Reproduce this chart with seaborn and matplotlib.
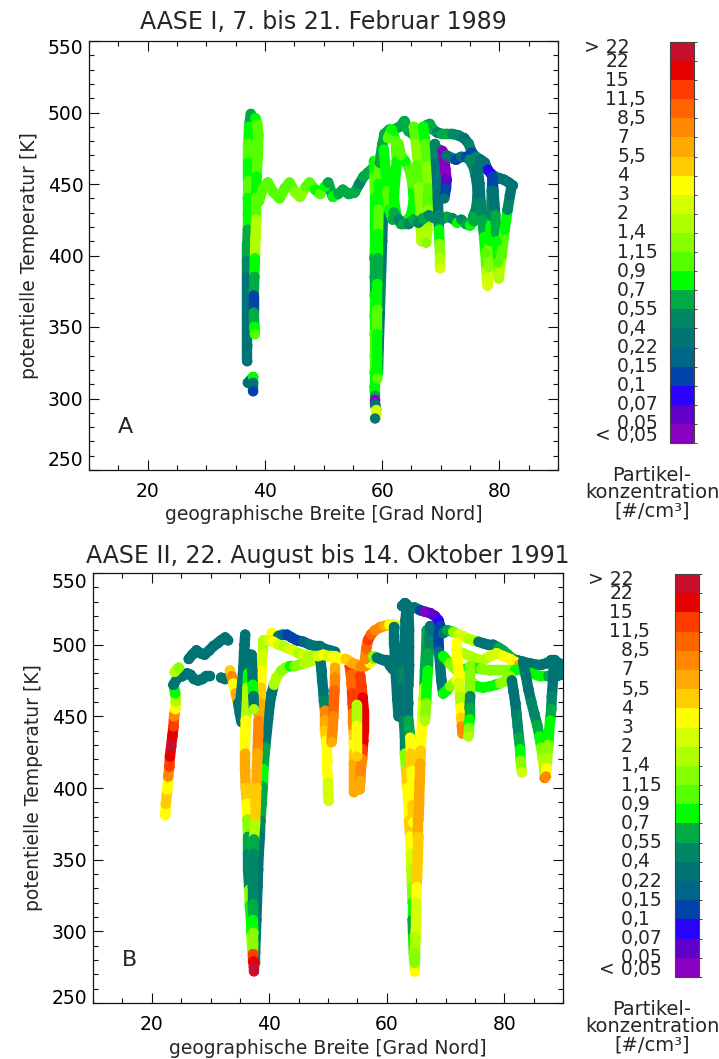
import numpy as np
import pandas as pd
import matplotlib
matplotlib.use("Agg")
import matplotlib.pyplot as plt
import matplotlib.transforms as mtrans
from matplotlib.colors import ListedColormap, BoundaryNorm
from matplotlib.cm import ScalarMappable
from matplotlib.ticker import MultipleLocator, FixedLocator
import seaborn as sns

# ---------------- colour classes (particle concentration, #/cm^3) ----------------
EDGES = [0.05, 0.07, 0.1, 0.15, 0.22, 0.4, 0.55, 0.7, 0.9, 1.15, 1.4, 2, 3, 4,
         5.5, 7, 8.5, 11.5, 15, 22]
LEVEL_LABELS = ["< 0,05", "0,05", "0,07", "0,1", "0,15", "0,22", "0,4", "0,55",
                "0,7", "0,9", "1,15", "1,4", "2", "3", "4", "5,5", "7", "8,5",
                "11,5", "15", "22", "> 22"]
LEVEL_COLORS = ["#8800C0", "#6000C8", "#2A00FF", "#0044AA", "#006688", "#007474",
                "#008866", "#00AA44", "#00FF00", "#55FF00", "#88FF00", "#B0FF00",
                "#D4FF00", "#FFFF00", "#FFCC00", "#FFAA00", "#FF8800", "#FF6400",
                "#FF3C00", "#E60000", "#C8102E"]

# ---------------- panel A: AASE I flight tracks (lat, theta [K], conc) ----------------
A_DIVE37_W = [(37.6, 499, 0.6), (37.3, 490, 0.8), (37.2, 478, 1.0), (37.2, 465, 0.8),
              (37.2, 452, 1.0), (37.1, 440, 0.8), (37.1, 428, 0.8), (37.1, 418, 0.6),
              (37.0, 408, 0.6), (37.0, 396, 0.45), (37.0, 385, 0.3), (37.0, 372, 0.3),
              (37.0, 360, 0.3), (37.0, 348, 0.3), (37.0, 337, 0.3), (37.0, 326, 0.3)]
A_DIVE37_E = [(38.4, 496, 0.8), (38.7, 492, 1.0), (38.9, 484, 1.0), (38.8, 470, 1.0),
              (38.6, 455, 0.8), (38.5, 440, 1.0), (38.5, 425, 1.7), (38.4, 412, 1.7),
              (38.3, 398, 0.8), (38.2, 385, 0.6), (38.1, 372, 0.12), (38.1, 360, 0.6),
              (38.2, 350, 0.8), (38.3, 345, 1.0)]
A_DOTS37 = [(37.1, 311, 0.3), (38.0, 315, 0.8), (38.0, 311, 0.3), (38.0, 305, 0.12)]
A_HORIZ = [(39.0, 438, 1.0), (39.6, 446, 1.0), (40.5, 451, 1.0), (41.5, 444, 1.0),
           (42.5, 440, 1.0), (43.4, 447, 1.0), (44.2, 451, 1.0), (45.2, 444, 1.3),
           (46.0, 441, 1.3), (47.0, 448, 1.0), (47.6, 451, 1.0), (48.6, 446, 0.8),
           (49.4, 443, 1.0), (50.2, 448, 0.8), (50.8, 451, 0.6), (51.6, 441, 0.8),
           (52.5, 443, 0.6), (53.3, 446, 0.6), (54.3, 443, 0.6), (55.3, 444, 0.6),
           (56.1, 450, 0.45), (56.8, 455, 0.6), (57.6, 458, 0.6), (58.4, 461, 0.6),
           (59.3, 464, 0.8)]
A_DIVE59_C = [(60.4, 460, 0.45), (60.2, 435, 0.3), (60.0, 410, 0.3), (59.8, 385, 0.45),
              (59.6, 360, 0.3), (59.4, 335, 0.45), (59.3, 318, 0.8)]
A_DIVE59 = [(58.6, 466, 0.8), (58.7, 455, 1.0), (58.8, 440, 0.8), (58.8, 425, 0.8),
            (58.8, 410, 0.8), (58.7, 398, 0.6), (58.7, 385, 0.6), (58.7, 372, 0.8),
            (58.7, 358, 0.8), (58.7, 345, 1.0), (58.7, 330, 1.0), (58.7, 318, 0.8),
            (58.7, 308, 0.8), (58.8, 302, 0.6)]
A_DIVE59_B = [(59.5, 468, 1.0), (59.4, 450, 0.8), (59.4, 432, 1.0), (59.3, 415, 0.8),
              (59.3, 398, 0.6), (59.2, 380, 0.8), (59.2, 362, 1.0), (59.2, 345, 0.8),
              (59.2, 328, 0.8), (59.2, 314, 1.0)]
A_DOTS59 = [(58.8, 299, 0.03), (58.8, 296, 0.3), (59.0, 292, 2.5), (59.0, 289, 2.5),
            (58.8, 286, 0.3)]
A_ARC = [(59.6, 465, 0.6), (60.0, 477, 0.6), (60.4, 485, 0.6), (61.2, 488, 0.6),
         (62.0, 488, 0.6), (63.0, 490, 0.6), (63.8, 494, 0.6), (64.5, 487, 0.6),
         (65.2, 485, 0.6), (66.0, 486, 0.6), (66.9, 487, 0.6), (67.6, 491, 0.6),
         (68.1, 492, 0.6), (68.7, 488, 0.6), (69.4, 486, 0.45), (70.2, 485, 0.6),
         (71.0, 485, 0.6), (72.0, 485, 0.45), (73.0, 484, 0.45), (74.0, 482, 0.3),
         (74.8, 478, 0.45), (75.3, 472, 0.12), (76.0, 469, 0.45), (76.8, 467, 0.3),
         (77.5, 465, 0.3), (78.0, 460, 0.08), (78.6, 457, 0.08), (79.3, 455, 0.3),
         (80.0, 454, 0.3), (80.8, 453, 0.3), (81.6, 451, 0.3), (82.3, 449, 0.3)]
A_G1 = [(60.3, 474, 0.8), (60.6, 460, 0.8), (60.9, 445, 1.0), (61.2, 432, 0.8),
        (61.8, 425, 0.6)]
A_G2 = [(61.0, 482, 1.0), (61.6, 488, 0.8), (62.3, 480, 1.0), (62.5, 466, 0.8),
        (62.2, 452, 0.8), (62.0, 440, 0.8), (62.4, 428, 0.8), (63.2, 422, 0.6),
        (64.1, 424, 0.8), (64.9, 428, 0.8), (65.4, 438, 0.8), (65.2, 450, 1.0),
        (64.7, 460, 1.0), (63.9, 466, 0.8), (63.2, 470, 1.0), (62.8, 478, 1.0)]
A_G3 = [(65.4, 490, 1.0), (65.8, 478, 1.3), (66.1, 463, 1.0), (66.3, 448, 1.3),
        (66.5, 433, 1.3), (66.6, 420, 1.7), (66.7, 410, 1.7)]
A_G4 = [(67.0, 490, 0.8), (67.4, 478, 1.0), (67.7, 462, 1.3), (67.9, 447, 1.0),
        (67.8, 432, 1.3), (67.7, 418, 1.7), (67.5, 409, 1.3)]
A_LOOP_LOW = [(62.0, 430, 0.6), (62.8, 425, 0.45), (63.6, 422, 0.6), (64.5, 422, 0.45),
              (65.3, 425, 0.6), (66.2, 423, 0.45), (67.0, 426, 0.6), (68.0, 428, 0.45),
              (69.0, 426, 0.45), (70.0, 425, 0.45), (71.0, 427, 0.6), (72.0, 426, 0.45),
              (72.8, 423, 0.8), (73.5, 425, 0.45), (74.3, 422, 0.6), (75.0, 421, 0.8),
              (75.6, 424, 0.6), (76.2, 428, 0.45)]
A_TEAL_COL = [(69.0, 478, 0.45), (69.2, 465, 0.3), (69.4, 452, 0.3), (69.5, 440, 0.3),
              (69.6, 428, 0.45), (69.7, 418, 0.8), (69.8, 408, 1.3), (69.9, 398, 1.7),
              (69.9, 391, 2.5)]
A_PURPLE = [(69.8, 474, 0.45), (70.3, 473, 0.03), (70.6, 467, 0.03), (70.8, 460, 0.03),
            (71.0, 453, 0.06), (70.9, 447, 0.12), (70.6, 440, 0.3)]
A_INNER = [(71.0, 470, 0.3), (72.0, 468, 0.3), (72.6, 467, 0.12), (73.5, 469, 0.3),
           (74.3, 469, 0.12), (74.9, 467, 0.45), (75.6, 462, 0.45), (76.0, 455, 0.3),
           (76.3, 446, 0.3), (76.2, 438, 0.45), (76.0, 432, 0.45), (75.5, 427, 0.6)]
A_W = [(76.3, 462, 0.3), (76.6, 450, 0.3), (76.8, 437, 0.45), (77.1, 425, 0.6),
       (77.4, 413, 0.8), (77.6, 402, 1.0), (77.8, 390, 1.7), (78.0, 379, 2.5),
       (78.2, 392, 1.3), (78.4, 410, 0.8), (78.6, 428, 0.45), (78.7, 445, 0.3),
       (78.8, 455, 0.12), (79.0, 445, 0.3), (79.3, 428, 0.6), (79.6, 410, 0.8),
       (79.8, 395, 1.0), (79.9, 384, 1.7), (80.4, 400, 1.0), (80.9, 418, 0.8),
       (81.4, 432, 0.45), (81.8, 442, 0.3), (82.1, 449, 0.3)]

TRACKS_A = [A_DIVE37_W, A_DIVE37_E, A_DOTS37, A_HORIZ, A_DIVE59_C, A_DIVE59,
            A_DIVE59_B, A_DOTS59, A_ARC, A_G1, A_G2, A_G3, A_G4, A_LOOP_LOW, A_TEAL_COL,
            A_PURPLE, A_INNER, A_W]

# ---------------- panel B: AASE II flight tracks (lat, theta [K], conc) ----------------
B_RED = [(22.3, 381, 3.5), (22.4, 389, 5), (22.65, 399, 3.5), (22.8, 408, 8),
         (23.0, 415, 13), (23.1, 422, 18), (23.3, 429, 30), (23.5, 436, 18),
         (23.7, 443, 13), (23.8, 450, 8), (24.0, 455, 3.5), (24.1, 460, 1.7),
         (24.0, 466, 0.8), (23.7, 472, 0.3)]
B_TEAL_LOW = [(23.7, 472, 0.3), (24.4, 477, 0.3), (25.2, 478, 0.3), (26.0, 480, 0.3),
              (26.6, 479, 0.3), (27.2, 476, 0.3), (27.9, 475, 0.3), (28.6, 476, 0.3),
              (29.3, 478, 0.3), (29.9, 478, 0.3)]
B_LIME_DOTS = [(23.9, 481, 1.7), (24.6, 484, 1.3)]
B_TEAL_UP = [(26.3, 490, 0.3), (26.9, 493, 0.3), (27.6, 496, 0.3), (28.3, 494, 0.3),
             (29.0, 493, 0.3), (29.8, 496, 0.3), (30.5, 499, 0.3), (31.2, 501, 0.3),
             (31.8, 503, 0.3), (32.5, 505, 0.3), (33.0, 503, 0.3)]
B_TEAL_MID = [(31.8, 477, 0.3), (32.5, 476, 0.3), (33.2, 478, 0.3)]
B_ORANGE_HOOK = [(33.3, 482, 5), (33.6, 478, 8), (33.9, 473, 3.5), (34.3, 466, 6),
                 (34.7, 459, 0.3), (35.0, 452, 0.3), (35.3, 446, 0.3)]
B_TEAL_TOP35 = [(35.9, 507, 0.3), (35.8, 500, 0.3), (35.7, 494, 0.3), (35.6, 484, 0.3),
                (35.4, 474, 0.3), (35.2, 465, 0.3), (35.0, 456, 0.3), (35.2, 448, 0.3)]
B_DIVE_L = [(36.2, 494, 0.3), (36.4, 480, 0.8), (36.3, 470, 1.7), (36.2, 459, 1.7),
            (36.0, 447, 3.5), (35.9, 436, 3.5), (35.9, 424, 6), (35.9, 412, 6),
            (36.0, 400, 5), (36.2, 389, 3.5), (36.3, 378, 1.3), (36.4, 366, 0.6),
            (36.4, 354, 0.45), (36.4, 343, 0.45), (36.6, 329, 1.3), (36.7, 318, 0.8),
            (36.9, 308, 0.8), (37.0, 296, 1.7), (37.1, 285, 2.5)]
B_DIVE_R = [(40.4, 466, 0.3), (40.1, 459, 0.3), (39.8, 448, 0.3), (39.6, 440, 0.3),
            (39.3, 428, 0.6), (39.0, 413, 0.8), (38.9, 401, 0.6), (38.7, 389, 0.6),
            (38.5, 377, 0.45), (38.4, 366, 0.3), (38.2, 354, 0.3), (38.1, 343, 0.3),
            (38.0, 331, 0.3), (37.9, 320, 0.3), (37.8, 308, 0.3), (37.7, 296, 0.45),
            (37.6, 285, 0.3), (37.6, 278, 0.3)]
B_DIVE_M = [(39.0, 503, 1.7), (38.9, 493, 2.5), (38.7, 482, 3.5), (38.6, 470, 5),
            (38.4, 459, 6), (38.2, 447, 8), (38.1, 436, 8), (38.0, 424, 6),
            (37.9, 412, 6), (37.8, 400, 5), (37.7, 389, 5), (37.6, 375, 1.7),
            (37.4, 364, 0.6), (37.3, 354, 0.45), (37.2, 342, 0.45), (37.2, 331, 0.45),
            (37.2, 319, 0.6), (37.2, 308, 0.8), (37.3, 299, 1.3), (37.3, 291, 1.3),
            (37.3, 284, 13), (37.3, 279, 18), (37.4, 275, 30), (37.4, 272, 30)]
B_TEAL37 = [(37.0, 493, 0.3), (37.1, 482, 0.3), (37.2, 472, 0.8), (37.3, 464, 0.3),
            (37.4, 455, 1.7)]
B_UP_BLUE = [(40.4, 508, 3.5), (41.5, 506, 0.3), (42.3, 507, 0.18), (43.0, 507, 0.12),
             (43.8, 505, 0.12), (44.7, 503, 0.12), (45.8, 502, 0.18), (46.9, 500, 0.3),
             (47.8, 499, 0.3), (48.6, 499, 0.3), (49.5, 497, 0.3), (50.3, 496, 0.3),
             (51.2, 495, 0.3)]
B_LIME_LOW = [(40.4, 466, 0.3), (40.8, 472, 1.7), (41.2, 477, 1.7), (42.1, 482, 1.3),
              (42.8, 484, 1.3), (43.5, 485, 0.8), (44.3, 485, 1.3), (45.2, 486, 1.3),
              (46.0, 487, 1.7), (46.9, 488, 1.7), (47.8, 490, 2.5), (48.6, 491, 2.5)]
B_DIVE49 = [(48.6, 496, 0.3), (48.7, 489, 0.3), (48.9, 482, 0.3), (49.0, 475, 0.3),
            (49.2, 468, 0.3), (49.3, 461, 0.45), (49.5, 454, 8), (49.5, 447, 6),
            (49.5, 440, 5), (49.7, 433, 3.5), (49.8, 426, 3.5), (49.9, 418, 3.5),
            (49.9, 411, 3.5), (50.0, 404, 2.5), (50.0, 397, 2.5), (50.1, 391, 2.5)]
B_DIVE51 = [(51.2, 492, 3.5), (51.2, 484, 6), (51.2, 477, 8), (51.1, 468, 10),
            (51.0, 459, 10), (50.9, 450, 8), (50.8, 441, 8), (50.6, 432, 6)]
B_DIVE54 = [(53.7, 485, 13), (53.9, 479, 10), (54.0, 473, 10), (54.1, 466, 13),
            (54.2, 459, 13), (54.3, 452, 8), (54.3, 445, 8), (54.4, 438, 5),
            (54.4, 431, 3.5), (54.4, 424, 5), (54.4, 417, 6), (54.4, 410, 6),
            (54.4, 403, 6), (54.4, 397, 6)]
B_DIVE56 = [(55.2, 485, 10), (55.5, 478, 13), (55.7, 471, 13), (55.9, 463, 18),
            (56.1, 454, 18), (56.1, 447, 18), (56.1, 440, 18), (56.0, 433, 18),
            (55.9, 427, 13), (55.8, 420, 8), (55.6, 413, 8), (55.5, 405, 6),
            (55.4, 399, 6)]
B_MID55 = [(54.9, 458, 1.7), (54.9, 450, 1.7), (54.9, 443, 3.5), (54.9, 436, 3.5),
           (54.9, 429, 3.5), (54.9, 422, 5)]
B_YEL_TRACK = [(39.0, 502, 1.7), (39.8, 503, 2.5), (40.7, 502, 3.5), (41.5, 500, 2.5),
               (42.4, 499, 1.7), (43.3, 497, 2.5), (44.1, 496, 2.5), (45.0, 494, 1.7),
               (45.8, 493, 2.5), (46.6, 492, 1.7), (47.5, 492, 1.7), (48.3, 492, 2.5),
               (49.2, 493, 3.5), (50.0, 492, 2.5), (50.9, 492, 3.5), (51.6, 491, 3.5),
               (52.3, 490, 3.5), (53.0, 490, 5), (53.5, 489, 5), (54.2, 487, 6),
               (54.9, 486, 6), (55.6, 485, 8), (56.3, 485, 8), (57.1, 487, 3.5),
               (57.7, 490, 1.3)]
B_ORANGE_RISE = [(56.3, 490, 8), (56.5, 497, 10), (56.8, 503, 13), (57.3, 507, 10),
                 (58.0, 510, 8), (58.8, 512, 8), (59.6, 513, 6), (60.4, 514, 3.5),
                 (61.2, 514, 3.5), (61.9, 513, 2.5)]
B_TEAL58 = [(57.7, 492, 1.3), (58.3, 491, 0.3), (58.9, 490, 0.3), (59.5, 489, 0.3),
            (60.0, 489, 0.3), (60.6, 485, 0.3), (61.0, 483, 0.3), (61.4, 487, 0.3)]
B_TEAL_COL61 = [(61.3, 512, 0.3), (61.3, 500, 0.3), (61.4, 488, 0.3), (61.6, 475, 0.3),
                (61.8, 462, 0.3), (62.0, 450, 0.3)]
B_DIVE64_L = [(62.6, 527, 0.3), (63.1, 529, 0.3), (63.4, 528, 0.3), (63.2, 517, 0.3),
              (63.1, 506, 0.3), (62.9, 494, 0.3), (62.8, 482, 0.45), (62.8, 470, 0.3),
              (62.8, 459, 0.3), (62.9, 447, 0.45), (63.1, 436, 0.45), (63.1, 424, 1.3),
              (63.3, 412, 5), (63.5, 400, 3.5), (63.7, 389, 3.5), (63.8, 377, 5),
              (64.0, 366, 3.5), (64.1, 354, 2.5), (64.2, 343, 1.7), (64.3, 331, 1.3),
              (64.4, 320, 0.8), (64.4, 308, 0.6), (64.5, 296, 0.8), (64.6, 285, 1.3),
              (64.7, 278, 2.5), (64.8, 272, 3.5)]
B_DIVE64_M = [(63.7, 522, 0.3), (63.8, 510, 0.3), (63.8, 498, 0.3), (63.8, 486, 0.3),
              (63.7, 472, 0.3), (63.7, 459, 0.3), (63.7, 447, 0.6), (64.0, 435, 3.5),
              (64.1, 424, 5), (64.2, 412, 3.5), (64.3, 400, 3.5), (64.4, 388, 5),
              (64.5, 376, 3.5)]
B_DIVE64_R = [(66.8, 510, 0.6), (66.7, 496, 0.6), (66.5, 482, 0.6), (66.4, 470, 1.7),
              (66.2, 459, 2.5), (66.0, 447, 3.5), (65.9, 436, 3.5), (65.8, 426, 5),
              (65.7, 417, 6), (65.6, 404, 6), (65.5, 389, 6), (65.4, 378, 6),
              (65.4, 366, 5), (65.3, 354, 5), (65.2, 343, 5), (65.1, 331, 3.5),
              (65.0, 320, 2.5), (65.0, 308, 2.5), (64.9, 296, 1.7), (64.8, 285, 1.3),
              (64.8, 278, 1.3)]
B_GREEN67 = [(67.4, 513, 0.3), (67.2, 503, 0.45), (67.1, 494, 0.6), (67.0, 482, 0.8),
             (66.8, 471, 0.8), (66.7, 459, 1.3), (66.5, 447, 1.7)]
B_TEAL69 = [(68.8, 505, 0.12), (68.9, 495, 0.3), (69.1, 485, 0.3), (69.3, 475, 0.3),
            (69.6, 466, 0.45)]
B_BLUE_CLUSTER = [(64.7, 526, 0.3), (65.7, 524, 0.12), (66.5, 523, 0.03),
                  (67.4, 522, 0.06), (68.2, 520, 0.06), (68.8, 517, 0.08),
                  (69.1, 513, 0.12), (68.8, 506, 0.12)]
B_RIGHT_UP = [(69.6, 508, 0.3), (70.3, 510, 0.6), (71.3, 509, 1.3), (72.2, 507, 2.5),
              (73.0, 506, 2.5), (73.9, 504, 1.7), (74.7, 503, 1.7), (75.6, 502, 0.3),
              (76.4, 501, 0.3), (77.3, 500, 0.3), (78.1, 500, 0.3), (79.0, 498, 0.6),
              (79.8, 496, 0.6), (80.6, 493, 0.6), (81.5, 490, 0.6), (82.3, 489, 0.3),
              (83.2, 488, 0.3), (84.3, 487, 0.3), (85.5, 486, 0.3), (86.3, 486, 0.3),
              (87.2, 487, 0.3), (88.0, 489, 0.3), (88.6, 489, 0.3), (89.3, 487, 0.3),
              (89.7, 484, 0.3)]
B_RIGHT_YEL = [(71.9, 496, 2.5), (73.0, 494, 1.7), (74.2, 492, 1.7), (75.3, 490, 1.7),
               (76.4, 489, 1.7), (77.6, 492, 2.5), (78.7, 494, 2.5), (79.8, 492, 3.5),
               (81.0, 490, 3.5), (81.8, 488, 3.5), (82.5, 486, 6), (83.2, 484, 1.7)]
B_RIGHT_MID = [(69.6, 492, 0.8), (70.7, 487, 1.3), (71.9, 482, 1.3), (73.3, 483, 0.8),
               (74.7, 484, 0.8), (76.1, 483, 1.3), (77.6, 482, 1.3), (79.0, 482, 1.3),
               (80.4, 482, 1.3), (81.8, 482, 0.8), (83.2, 482, 0.8), (84.6, 480, 0.8),
               (86.1, 478, 0.8), (87.5, 478, 0.6), (88.9, 478, 0.3), (89.6, 479, 0.3)]
B_RIGHT_LOW = [(69.6, 466, 0.8), (70.2, 468, 0.8), (70.8, 471, 1.3), (71.9, 475, 3.5),
               (72.8, 477, 3.5), (73.6, 478, 3.5), (74.5, 474, 1.7), (75.3, 471, 0.8),
               (76.4, 470, 0.8), (77.6, 471, 0.8), (78.5, 472, 0.8), (79.3, 473, 1.3),
               (80.2, 475, 1.3), (81.0, 478, 1.3)]
B_DIVE72 = [(71.9, 501, 3.5), (72.0, 491, 3.5), (72.2, 482, 3.5), (72.3, 473, 2.5),
            (72.5, 464, 1.7), (72.6, 456, 3.5), (72.7, 449, 5), (72.8, 443, 8),
            (72.9, 438, 8)]
B_DIVE74 = [(74.2, 485, 1.3), (74.2, 475, 1.3), (74.2, 464, 0.45), (74.1, 456, 0.6),
            (74.1, 448, 0.8), (74.0, 442, 1.3), (73.9, 436, 1.7)]
B_DIVE82 = [(81.3, 475, 0.3), (81.6, 467, 0.3), (81.9, 459, 0.3), (82.1, 451, 0.45),
            (82.3, 443, 0.45), (82.5, 435, 0.6), (82.7, 427, 0.8), (82.8, 419, 1.3),
            (83.0, 411, 2.5)]
B_DIVE86 = [(83.2, 488, 0.3), (83.7, 478, 0.3), (84.1, 469, 0.3), (84.6, 460, 0.45),
            (85.1, 452, 0.45), (85.6, 444, 0.6), (86.0, 436, 0.8), (86.3, 428, 1.3),
            (86.6, 420, 1.7), (86.8, 413, 1.7), (86.9, 407, 10)]
B_DIVE88 = [(88.4, 485, 0.3), (88.3, 475, 0.3), (88.1, 464, 0.45), (88.0, 455, 0.6),
            (87.8, 447, 0.8), (87.6, 438, 0.8), (87.5, 430, 1.3), (87.3, 421, 1.7),
            (87.2, 414, 3.5), (87.1, 408, 8)]

TRACKS_B = [B_RED, B_TEAL_LOW, B_LIME_DOTS, B_TEAL_UP, B_TEAL_MID, B_ORANGE_HOOK,
            B_TEAL_TOP35, B_DIVE_L, B_DIVE_R, B_DIVE_M, B_TEAL37, B_UP_BLUE, B_LIME_LOW,
            B_DIVE49, B_DIVE51, B_DIVE54, B_DIVE56, B_MID55, B_YEL_TRACK, B_ORANGE_RISE,
            B_TEAL58, B_TEAL_COL61, B_DIVE64_L, B_DIVE64_M, B_DIVE64_R, B_GREEN67,
            B_TEAL69, B_BLUE_CLUSTER, B_RIGHT_UP, B_RIGHT_YEL, B_RIGHT_MID, B_RIGHT_LOW,
            B_DIVE72, B_DIVE74, B_DIVE82, B_DIVE86, B_DIVE88]

TITLE_A = "AASE I, 7. bis 21. Februar 1989"
TITLE_B = "AASE II, 22. August bis 14. Oktober 1991"
XLABEL = "geographische Breite [Grad Nord]"
YLABEL = "potentielle Temperatur [K]"
CB_CAPTION = "Partikel-\nkonzentration\n[#/cm³]"
XTICKS = [20, 40, 60, 80]
YTICKS = [250, 300, 350, 400, 450, 500, 550]

# ---------------- style ----------------
sns.set_style("ticks")
plt.rcParams["font.family"] = ["DejaVu Sans"]
FS = 13.5
FS_TITLE = 17
LW = 7.5
MS = 55

W, H = 719, 1059
fig = plt.figure(figsize=(W / 100, H / 100), dpi=100)


def px_axes(l, t, r, b):
    return fig.add_axes([l / W, 1 - b / H, (r - l) / W, (b - t) / H])


def draw_panel(ax, tracks):
    for k, tr in enumerate(tracks):
        df = pd.DataFrame(tr, columns=["lat", "theta", "conc"])
        df["lvl"] = np.digitize(df["conc"], EDGES)
        z = 2 + k
        for i in range(len(df) - 1):
            ax.plot(df["lat"].iloc[i:i + 2], df["theta"].iloc[i:i + 2],
                    color=LEVEL_COLORS[df["lvl"].iloc[i]], lw=LW,
                    solid_capstyle="round", zorder=z)
        pal = {lv: LEVEL_COLORS[lv] for lv in df["lvl"].unique()}
        sns.scatterplot(data=df, x="lat", y="theta", hue="lvl", palette=pal,
                        s=MS, linewidth=0, legend=False, ax=ax, zorder=z + 0.5)


def style_axes(ax, title, letter, tpad, ylpad, xpad, xlpad, shift_top, shift_bot):
    ax.set_xlim(10, 90)
    ax.set_ylim(250, 550)
    ax.xaxis.set_major_locator(FixedLocator(XTICKS))
    ax.xaxis.set_minor_locator(MultipleLocator(5))
    ax.yaxis.set_major_locator(FixedLocator(YTICKS))
    ax.yaxis.set_minor_locator(MultipleLocator(10))
    ax.tick_params(which="both", direction="in", top=True, right=True,
                   labelsize=FS, width=0.8, color="#111111", labelcolor="black")
    ax.tick_params(which="major", length=7)
    ax.tick_params(axis="y", which="major", pad=4)
    ax.tick_params(axis="x", which="major", pad=xpad)
    ax.tick_params(which="minor", length=3.5)
    for s in ax.spines.values():
        s.set_linewidth(0.9)
        s.set_color("#111111")
    ax.set_xlabel(XLABEL, fontsize=FS, labelpad=xlpad)
    ax.set_ylabel(YLABEL, fontsize=FS, labelpad=ylpad)
    ax.set_title(title, fontsize=FS_TITLE, pad=tpad)
    ax.text(0.062, 0.086, letter, transform=ax.transAxes, fontsize=16,
            ha="left", va="baseline")
    # end labels of the theta axis sit slightly inside the frame, as in the original
    ticks = ax.yaxis.get_major_ticks()
    top_off = mtrans.ScaledTranslation(0, -shift_top / 100, fig.dpi_scale_trans)
    bot_off = mtrans.ScaledTranslation(0, shift_bot / 100, fig.dpi_scale_trans)
    ticks[-1].label1.set_transform(ticks[-1].label1.get_transform() + top_off)
    ticks[0].label1.set_transform(ticks[0].label1.get_transform() + bot_off)


def draw_colorbar(cax, xlab_px, cap_x, cap_y):
    cmap = ListedColormap(LEVEL_COLORS)
    norm = BoundaryNorm(np.arange(len(LEVEL_COLORS) + 1), len(LEVEL_COLORS))
    cb = fig.colorbar(ScalarMappable(norm=norm, cmap=cmap), cax=cax, ticks=[])
    cb.outline.set_linewidth(0.8)
    cb.outline.set_edgecolor("#444444")
    cax.tick_params(length=0)
    tr = mtrans.blended_transform_factory(fig.transFigure, cax.transData)
    n = len(LEVEL_LABELS)
    for i, lab in enumerate(LEVEL_LABELS):
        y = i
        if i == 0:
            y = 0.4
        elif i == n - 1:
            y = n - 1 - 0.3
        if "," in lab:
            ip, fp = lab.split(",")
            fp = "," + fp
        else:
            ip, fp = lab, ""
        cax.text(xlab_px / W, y, ip, transform=tr, ha="right", va="center",
                 fontsize=FS, clip_on=False)
        if fp:
            cax.text(xlab_px / W, y, fp, transform=tr, ha="left", va="center",
                     fontsize=FS, clip_on=False)
    fig.text(cap_x / W, 1 - cap_y / H, CB_CAPTION, ha="center", va="center",
             fontsize=14, linespacing=0.92)


axA = px_axes(89, 41, 558, 470)
draw_panel(axA, TRACKS_A)
style_axes(axA, TITLE_A, "A", 9, 6, 8.5, 3, 5, 12)

axB = px_axes(93, 573, 563, 1003)
draw_panel(axB, TRACKS_B)
style_axes(axB, TITLE_B, "B", 7, 6, 9, 3.5, 7, 7)

caxA = px_axes(670, 42, 694, 443)
draw_colorbar(caxA, 629, 652, 493)
caxB = px_axes(675, 574, 699, 977)
draw_colorbar(caxB, 633, 652, 1027)

fig.savefig("out.png", dpi=100)
